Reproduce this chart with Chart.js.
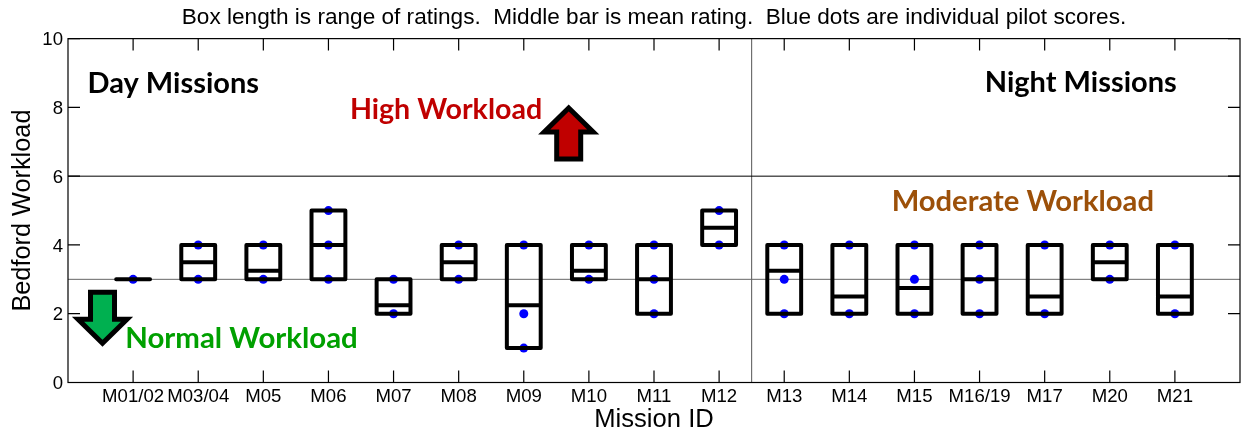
<!DOCTYPE html>
<html>
<head>
<meta charset="utf-8">
<style>
  html, body { margin: 0; padding: 0; background: #fff; }
  canvas { display: block; }
</style>
<script src="https://cdn.jsdelivr.net/npm/chart.js@4"></script>
</head>
<body>
<canvas id="workloadChart" width="1243" height="432"></canvas>
<script>
const missionIds = ['M01/02', 'M03/04', 'M05', 'M06', 'M07', 'M08', 'M09', 'M10', 'M11', 'M12', 'M13', 'M14', 'M15', 'M16/19', 'M17', 'M20', 'M21'];
const lowRatings = [3, 3, 3, 3, 2, 3, 1, 3, 2, 4, 2, 2, 2, 2, 2, 3, 2];
const highRatings = [3, 4, 4, 5, 3, 4, 4, 4, 4, 5, 4, 4, 4, 4, 4, 4, 4];
const meanRatings = [3, 3.5, 3.25, 4, 2.25, 3.5, 2.25, 3.25, 3, 4.5, 3.25, 2.5, 2.75, 3, 2.5, 3.5, 2.5];
const pilotScores = [[3], [3, 4], [3, 4], [3, 4, 5], [2, 3], [3, 4], [1, 2, 4], [3, 4], [2, 3, 4], [4, 5], [2, 3, 4], [2, 4], [2, 3, 4], [2, 3, 4], [2, 4], [3, 4], [2, 4]];
const yTicks = [0, 2, 4, 6, 8, 10];

const xMax = missionIds.length + 1;
const boxHalf = 0.26;
const dayNightSplit = 10.5;
const highLimit = 6;
const normalLimit = 3;

// box outline and mean bar for each mission, NaN breaks the line between them
const gap = { x: NaN, y: NaN };
const boxPoints = [];
missionIds.forEach((id, i) => {
  const x = i + 1;
  const l = x - boxHalf, r = x + boxHalf;
  boxPoints.push(
    { x: l, y: lowRatings[i] }, { x: r, y: lowRatings[i] },
    { x: r, y: highRatings[i] }, { x: l, y: highRatings[i] },
    { x: l, y: lowRatings[i] }, gap,
    { x: l, y: meanRatings[i] }, { x: r, y: meanRatings[i] }, gap
  );
});

const dotPoints = [];
pilotScores.forEach((scores, i) => {
  scores.forEach(s => dotPoints.push({ x: i + 1, y: s }));
});

function refLine(points, color) {
  return { data: points, showLine: true, borderColor: color, borderWidth: 1, pointRadius: 0 };
}

// notes sit in data coordinates so they follow the axes
const notes = [
  { text: 'Day Missions', x: 0.3, y: 8.41, size: 29, color: '#000000' },
  { text: 'Night Missions', x: 14.08, y: 8.45, size: 29, color: '#000000' },
  { text: 'High Workload', x: 4.33, y: 7.67, size: 28.6, color: '#C00000' },
  { text: 'Moderate Workload', x: 12.65, y: 5.0, size: 29.2, color: '#9C5009' },
  { text: 'Normal Workload', x: 0.88, y: 1.0, size: 29.4, color: '#00A000' }
];
const arrows = [
  { x: 7.69, y: 7.98, dir: 1, fill: '#C00000' },
  { x: 0.53, y: 1.14, dir: -1, fill: '#00B050' }
];

const decorations = {
  id: 'decorations',
  afterDraw(chart) {
    const { ctx, chartArea: a, scales: { x, y } } = chart;
    ctx.save();

    // frame and inward ticks on all four sides
    ctx.strokeStyle = '#000';
    ctx.lineWidth = 1.2;
    ctx.strokeRect(a.left, a.top, a.right - a.left, a.bottom - a.top);
    ctx.beginPath();
    const tickLen = 12;
    missionIds.forEach((id, i) => {
      const px = x.getPixelForValue(i + 1);
      ctx.moveTo(px, a.top); ctx.lineTo(px, a.top + tickLen);
      ctx.moveTo(px, a.bottom); ctx.lineTo(px, a.bottom - tickLen);
    });
    yTicks.forEach(v => {
      const py = y.getPixelForValue(v);
      ctx.moveTo(a.left, py); ctx.lineTo(a.left + tickLen, py);
      ctx.moveTo(a.right, py); ctx.lineTo(a.right - tickLen, py);
    });
    ctx.stroke();

    ctx.lineWidth = 5;
    ctx.lineJoin = 'miter';
    ctx.miterLimit = 10;
    arrows.forEach(ar => {
      const tx = x.getPixelForValue(ar.x), ty = y.getPixelForValue(ar.y);
      const d = ar.dir;
      ctx.fillStyle = ar.fill;
      ctx.beginPath();
      ctx.moveTo(tx, ty);
      ctx.lineTo(tx + 24.5, ty + d * 24);
      ctx.lineTo(tx + 12, ty + d * 24);
      ctx.lineTo(tx + 12, ty + d * 51);
      ctx.lineTo(tx - 12, ty + d * 51);
      ctx.lineTo(tx - 12, ty + d * 24);
      ctx.lineTo(tx - 24.5, ty + d * 24);
      ctx.closePath();
      ctx.fill();
      ctx.stroke();
    });

    ctx.textAlign = 'left';
    ctx.textBaseline = 'alphabetic';
    notes.forEach(n => {
      ctx.font = 'bold ' + n.size + 'px Lato';
      ctx.fillStyle = n.color;
      ctx.fillText(n.text, x.getPixelForValue(n.x), y.getPixelForValue(n.y));
    });
    ctx.restore();
  }
};

new Chart('workloadChart', {
  type: 'scatter',
  data: {
    datasets: [
      {
        data: boxPoints,
        showLine: true,
        spanGaps: false,
        borderColor: '#000000',
        borderWidth: 4,
        borderJoinStyle: 'round',
        borderCapStyle: 'round',
        pointRadius: 0
      },
      { data: dotPoints, backgroundColor: '#0000FF', borderWidth: 0, pointRadius: 4.5 },
      refLine([{ x: 0, y: highLimit }, { x: xMax, y: highLimit }], '#000000'),
      refLine([{ x: 0, y: normalLimit }, { x: xMax, y: normalLimit }], '#666666'),
      refLine([{ x: dayNightSplit, y: 0 }, { x: dayNightSplit, y: 10 }], '#555555')
    ]
  },
  options: {
    responsive: false,
    animation: false,
    layout: { padding: { left: 0, right: 2, top: 0, bottom: 0 }, autoPadding: false },
    plugins: {
      legend: { display: false },
      tooltip: { enabled: false },
      title: {
        display: true,
        fullSize: false,
        text: 'Box length is range of ratings.  Middle bar is mean rating.  Blue dots are individual pilot scores.',
        color: '#000',
        font: { family: 'Liberation Sans', size: 22.6, weight: 'normal' },
        padding: { top: 4, bottom: 7.5 }
      }
    },
    scales: {
      x: {
        type: 'linear',
        min: 0,
        max: xMax,
        afterFit(scale) { scale.height = 49.5; },
        grid: { display: false, drawTicks: false },
        border: { display: false },
        ticks: {
          stepSize: 1,
          autoSkip: false,
          maxRotation: 0,
          color: '#000',
          padding: 3,
          font: { family: 'Liberation Sans', size: 18.6 },
          callback: v => missionIds[v - 1] || ''
        },
        title: {
          display: true,
          text: 'Mission ID',
          color: '#000',
          font: { family: 'Liberation Sans', size: 25.6 },
          padding: { top: 0, bottom: -3 }
        }
      },
      y: {
        min: 0,
        max: 10,
        afterFit(scale) { scale.width = 68; },
        grid: { display: false, drawTicks: false },
        border: { display: false },
        ticks: {
          stepSize: 2,
          color: '#000',
          padding: 5,
          labelOffset: 1.5,
          font: { family: 'Liberation Sans', size: 18.6 }
        },
        title: {
          display: true,
          text: 'Bedford Workload',
          color: '#000',
          font: { family: 'Liberation Sans', size: 25.3 },
          padding: { top: 8, bottom: 0 }
        }
      }
    }
  },
  plugins: [decorations]
});
</script>
</body>
</html>
